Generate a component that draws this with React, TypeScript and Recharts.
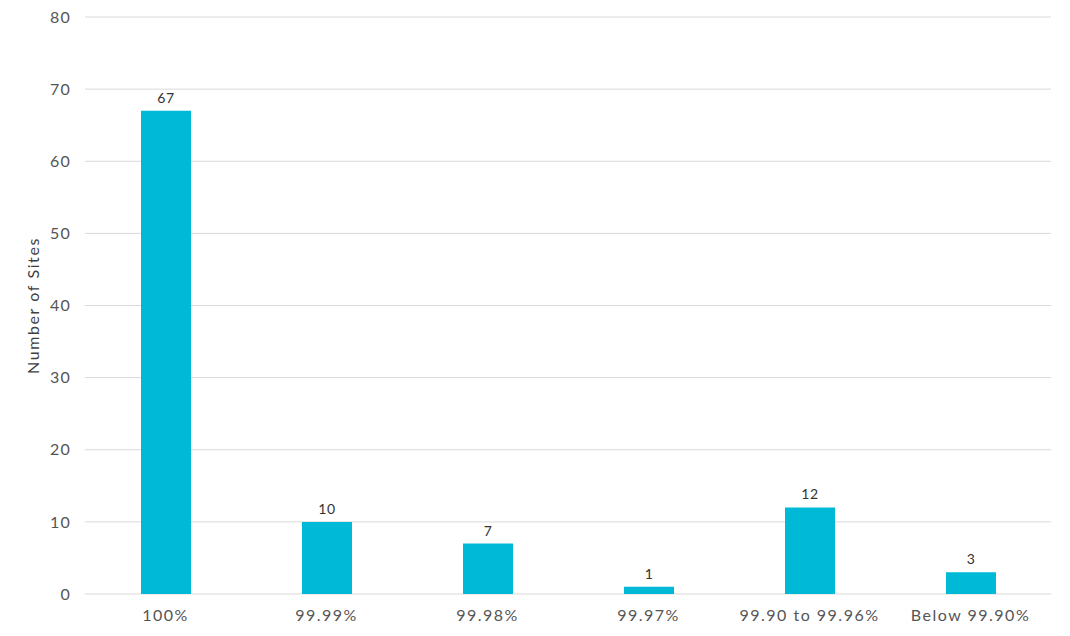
import React from 'react';
import { BarChart, Bar, XAxis, YAxis, CartesianGrid, LabelList, Label } from 'recharts';

const categories = ['100%', '99.99%', '99.98%', '99.97%', '99.90 to 99.96%', 'Below 99.90%'];
const siteCounts = [67, 10, 7, 1, 12, 3];
const yTicks = [0, 10, 20, 30, 40, 50, 60, 70, 80];

const data = categories.map((c, i) => ({ category: c, sites: siteCounts[i] }));

const FONT = 'Lato, "Open Sans", sans-serif';

export default function App() {
  return (
    <div style={{ position: 'absolute', left: 0, top: 0, background: '#fff' }}>
      <BarChart
        width={1070}
        height={636}
        data={data}
        margin={{ top: 17, right: 19, bottom: 0, left: 0 }}
        style={{ fontFamily: FONT }}
      >
        <CartesianGrid vertical={false} stroke="#d9d9d9" />
        <XAxis
          dataKey="category"
          axisLine={false}
          tickLine={false}
          tickSize={0}
          tickMargin={16}
          height={42}
          interval={0}
          tick={{ fill: '#555', fontSize: 16, fontFamily: FONT, letterSpacing: 1.5 }}
        />
        <YAxis
          domain={[0, 80]}
          ticks={yTicks}
          axisLine={false}
          tickLine={false}
          tickSize={0}
          tickMargin={14}
          width={85}
          tick={{ fill: '#555', fontSize: 16, fontFamily: FONT, letterSpacing: 1.2 }}
        >
          <Label
            value="Number of Sites"
            angle={-90}
            position="center"
            dx={-9}
            style={{ fill: '#404040', fontSize: 16, fontFamily: FONT, textAnchor: 'middle', letterSpacing: 1.6 }}
          />
        </YAxis>
        <Bar dataKey="sites" fill="#00b9d7" barSize={50} isAnimationActive={false}>
          <LabelList
            dataKey="sites"
            position="top"
            offset={8}
            style={{ fill: '#333', fontSize: 14, fontFamily: FONT, letterSpacing: 0.6 }}
          />
        </Bar>
      </BarChart>
    </div>
  );
}
